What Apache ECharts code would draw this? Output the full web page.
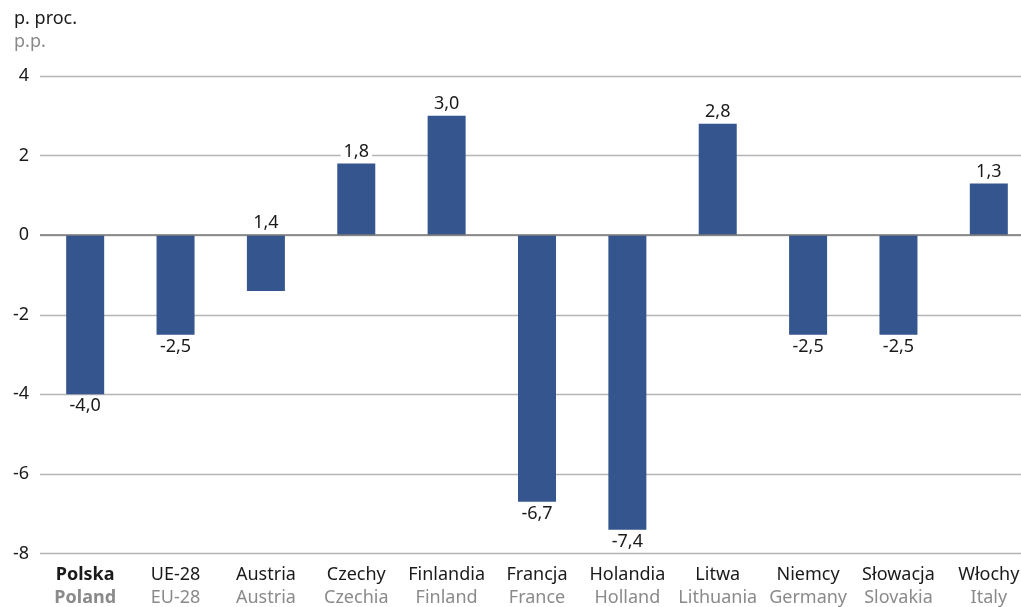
<!DOCTYPE html>
<html><head><meta charset="utf-8">
<script src="https://cdn.jsdelivr.net/npm/echarts@6/dist/echarts.min.js"></script>
<style>html,body{margin:0;padding:0;background:#fff;overflow:hidden}#c{width:1034px;height:607px}</style>
</head><body><div id="c"></div>
<script>
const categoriesPL = ['Polska','UE-28','Austria','Czechy','Finlandia','Francja','Holandia','Litwa','Niemcy','Słowacja','Włochy'];
const categoriesEN = ['Poland','EU-28','Austria','Czechia','Finland','France','Holland','Lithuania','Germany','Slovakia','Italy'];
const values = [-4.0,-2.5,-1.4,1.8,3.0,-6.7,-7.4,2.8,-2.5,-2.5,1.3];
const labelTexts = ['-4,0','-2,5','1,4','1,8','3,0','-6,7','-7,4','2,8','-2,5','-2,5','1,3'];
const labelAbove = [false,false,true,true,true,false,false,true,false,false,true];
const yTicks = [-8,-6,-4,-2,0,2,4];

const FONT = '"Noto Sans", "Open Sans", sans-serif';
const FS = 18;
const chart = echarts.init(document.getElementById('c'), null, {renderer:'canvas'});
chart.setOption({
  animation:false,
  textStyle:{fontFamily:FONT},
  graphic:[
    {type:'text', left:14, top:10, style:{text:'p. proc.', fontFamily:FONT, fontSize:FS, fill:'#1a1a1a'}},
    {type:'text', left:14, top:33, style:{text:'p.p.', fontFamily:FONT, fontSize:FS, fill:'#8a8a8a'}}
  ],
  grid:{left:40, right:0, top:76, bottom:53},
  xAxis:{
    type:'category', data:categoriesPL,
    axisLine:{show:false}, axisTick:{show:false},
    axisLabel:{
      interval:0, margin:10,
      formatter:(v,i)=> i===0 ? '{bp|'+v+'}\n{be|'+categoriesEN[i]+'}' : '{p|'+v+'}\n{e|'+categoriesEN[i]+'}',
      rich:{
        p:{fontFamily:FONT, fontSize:FS, color:'#1a1a1a', lineHeight:23},
        e:{fontFamily:FONT, fontSize:FS, color:'#8a8a8a', lineHeight:23},
        bp:{fontFamily:FONT, fontSize:FS, fontWeight:'bold', color:'#1a1a1a', lineHeight:23},
        be:{fontFamily:FONT, fontSize:FS, fontWeight:'bold', color:'#8a8a8a', lineHeight:23}
      }
    }
  },
  yAxis:{
    type:'value', min:yTicks[0], max:yTicks[yTicks.length-1], interval:2,
    axisLine:{show:false}, axisTick:{show:false},
    axisLabel:{fontFamily:FONT, fontSize:FS, color:'#1a1a1a', margin:11},
    splitLine:{lineStyle:{color:'#b5b5b5', width:1.3}}
  },
  series:[{
    type:'bar', barWidth:38,
    itemStyle:{color:'#34558d'},
    data: values.map((v,i)=>({
      value:v,
      label:{
        show:true, position: labelAbove[i] ? 'top' : 'bottom', distance:3,
        formatter: labelTexts[i],
        fontFamily:FONT, fontSize:FS, color:'#1a1a1a',
        backgroundColor:'#ffffff', padding:[0,3,0,3]
      }
    })),
    markLine:{
      silent:true, symbol:'none', label:{show:false},
      lineStyle:{color:'#7a7a7a', width:1.5, type:'solid'},
      data:[{yAxis:0}]
    }
  }]
});
</script></body></html>
